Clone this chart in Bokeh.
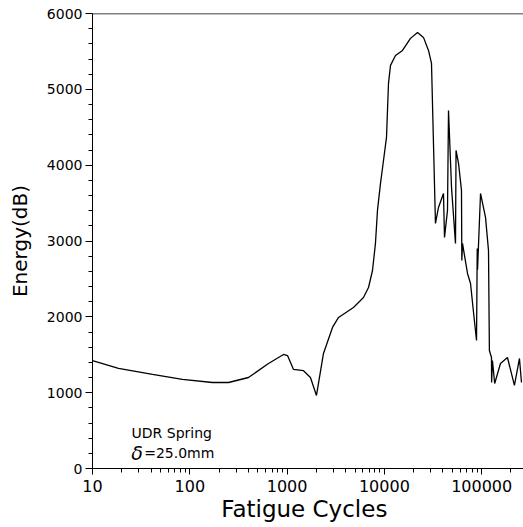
from bokeh.plotting import figure
from bokeh.models import (Range1d, Span, Label, FixedTicker, SingleIntervalTicker,
                          LogTickFormatter)
from bokeh.embed import file_html
from bokeh.resources import INLINE

# ---- data ----
cycles = [10, 18.5, 41.4, 84, 171, 250, 401, 644, 919, 1010, 1164, 1475, 1738,
          2004, 2366, 2929, 3377, 4811, 6097, 6866, 7548, 8093, 8490, 9120, 9790,
          10510, 11020, 11560, 13010, 15350, 18550, 21900, 25220, 28400, 30490,
          33500, 35970, 40480, 41480, 44530, 45600, 49000, 53800, 54500, 57800,
          62000, 62500, 63500, 71500, 76800, 82400, 88500, 90000, 90600, 97300,
          109500, 117500, 120000, 126100, 126500, 129000, 136000, 156000, 184000,
          217000, 244500, 256500]
energy = [1424, 1320, 1240, 1174, 1134, 1134, 1200, 1385, 1504, 1490, 1306, 1290, 1200,
          963, 1517, 1860, 1992, 2124, 2255, 2387, 2611, 2968, 3403, 3759, 4062,
          4366, 5078, 5316, 5447, 5513, 5672, 5750, 5685, 5513, 5342,
          3231, 3442, 3627, 3047, 3403, 4722, 3700, 2968, 4194, 4023,
          3667, 2743, 2968, 2572, 2440, 2060, 1688, 2900, 2620, 3627,
          3311, 2875, 1556, 1464, 1134, 1424, 1121, 1385, 1464,
          1095, 1451, 1134]

x_major_ticks = [10, 100, 1000, 10000, 100000]
x_tick_labels = ["10", "100", "1000", "10000", "100000"]
y_ticks_interval = 1000

x_start, x_end = 10, 269000
y_start, y_end = 0, 6000

FONT = "DejaVu Sans"

p = figure(width=523, height=527, x_axis_type="log",
           x_range=Range1d(x_start, x_end), y_range=Range1d(y_start, y_end),
           output_backend="svg", toolbar_location=None,
           min_border_left=92, min_border_right=0, min_border_top=13,
           min_border_bottom=59)
p.outline_line_color = None
p.grid.visible = False
p.background_fill_color = "white"
p.border_fill_color = "white"

p.line(cycles, energy, line_color="black", line_width=1.3)

# top frame line
p.add_layout(Span(location=y_end, dimension="width", line_color="black", line_width=1.3))

# x axis
minor = [m * d for d in x_major_ticks for m in range(2, 10) if m * d <= x_end]
xax = p.xaxis[0]
xax.ticker = FixedTicker(ticks=x_major_ticks, minor_ticks=minor)
xax.formatter = LogTickFormatter(min_exponent=7)
xax.major_label_overrides = {t: l for t, l in zip(x_major_ticks, x_tick_labels)}
xax.axis_label = "Fatigue  Cycles"
xax.axis_label_text_font = FONT
xax.axis_label_text_font_size = "23px"
xax.axis_label_text_font_style = "normal"
xax.axis_label_text_color = "black"
xax.axis_label_standoff = 1
xax.major_label_text_font = FONT
xax.major_label_text_font_size = "16px"
xax.major_label_text_color = "black"
xax.major_label_standoff = 5
xax.major_tick_out = 6
xax.major_tick_in = 0
xax.minor_tick_out = 4
xax.minor_tick_in = 0
xax.axis_line_color = "black"
xax.major_tick_line_color = "black"
xax.minor_tick_line_color = "black"

# y axis
yax = p.yaxis[0]
yax.ticker = SingleIntervalTicker(interval=y_ticks_interval, num_minor_ticks=5)
yax.axis_label = "Energy(dB)"
yax.axis_label_text_font = FONT
yax.axis_label_text_font_size = "20px"
yax.axis_label_text_font_style = "normal"
yax.axis_label_text_color = "black"
yax.axis_label_standoff = 12
yax.major_label_text_font = FONT
yax.major_label_text_font_size = "14px"
yax.major_label_text_color = "black"
yax.major_label_standoff = 3
yax.major_tick_out = 7
yax.major_tick_in = 0
yax.minor_tick_out = 4
yax.minor_tick_in = 0
yax.axis_line_color = "black"
yax.major_tick_line_color = "black"
yax.minor_tick_line_color = "black"

# annotation
p.add_layout(Label(x=25.2, y=462, text="UDR Spring", text_font=FONT,
                   text_font_size="14px", text_baseline="alphabetic",
                   text_color="black"))
p.add_layout(Label(x=25.0, y=198, text="δ", text_font=FONT,
                   text_font_size="19px", text_font_style="italic",
                   text_baseline="alphabetic", text_color="black"))
p.add_layout(Label(x=34.0, y=198, text="=25.0mm", text_font=FONT,
                   text_font_size="14px", text_baseline="alphabetic",
                   text_color="black"))

open("out.html", "w").write(file_html(p, INLINE))
